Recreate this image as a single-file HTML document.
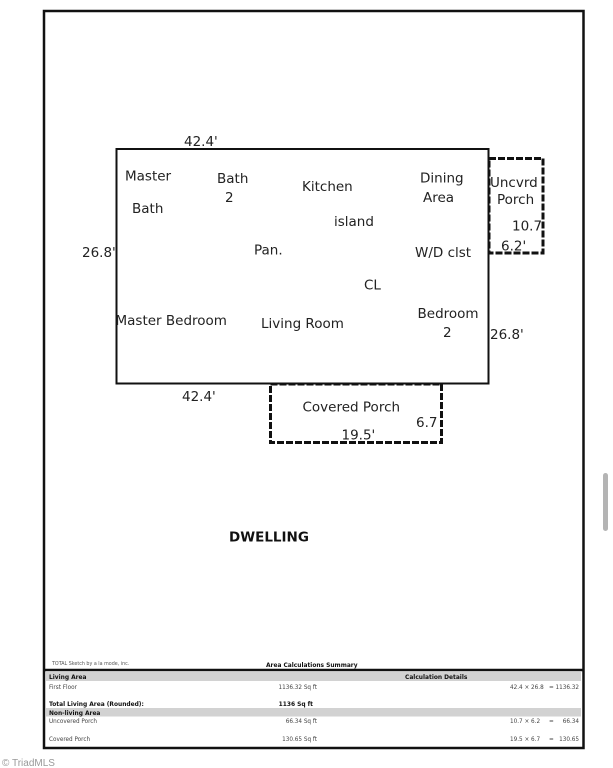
<!DOCTYPE html>
<html>
<head>
<meta charset="utf-8">
<style>
html,body{margin:0;padding:0;background:#fff;width:613px;height:768px;overflow:hidden}
svg{display:block}
text{font-family:"DejaVu Sans",sans-serif;fill:#222}
.r{font-size:13.5px}
.s{font-size:5.7px;fill:#444}
.b{font-size:5.9px;font-weight:bold;fill:#111}
</style>
</head>
<body>
<svg width="613" height="768" viewBox="0 0 613 768" xmlns="http://www.w3.org/2000/svg">
<rect width="613" height="768" fill="#fff"/>
<!-- outer frame -->
<rect x="44" y="11" width="539.5" height="737" fill="none" stroke="#111" stroke-width="2.5"/>
<line x1="44" y1="670" x2="583" y2="670" stroke="#111" stroke-width="2.5"/>
<!-- main rect -->
<rect x="116.500" y="149" width="372" height="234.500" fill="none" stroke="#111" stroke-width="2"/>
<!-- porches -->
<rect x="489" y="158.500" width="54" height="94.500" fill="none" stroke="#111" stroke-width="3" stroke-dasharray="7 2"/>
<rect x="270.500" y="384" width="171" height="58.500" fill="none" stroke="#111" stroke-width="3" stroke-dasharray="7 2"/>
<!-- labels -->
<g class="r">
<text x="184" y="146">42.4'</text>
<text x="125" y="180.500">Master</text>
<text x="132" y="213">Bath</text>
<text x="217" y="183">Bath</text>
<text x="225" y="202">2</text>
<text x="302" y="191">Kitchen</text>
<text x="334" y="226">island</text>
<text x="420" y="182.500">Dining</text>
<text x="423" y="202">Area</text>
<text x="490" y="187">Uncvrd</text>
<text x="497" y="204">Porch</text>
<text x="512" y="230.500">10.7</text>
<text x="501" y="250.500">6.2'</text>
<text x="82" y="257">26.8'</text>
<text x="254" y="254.500">Pan.</text>
<text x="415" y="257">W/D clst</text>
<text x="364" y="289.500">CL</text>
<text x="115.500" y="325">Master Bedroom</text>
<text x="261" y="328">Living Room</text>
<text x="417.500" y="318">Bedroom</text>
<text x="443" y="337">2</text>
<text x="490" y="339">26.8'</text>
<text x="182" y="401">42.4'</text>
<text x="302.500" y="411.500">Covered Porch</text>
<text x="416" y="427">6.7</text>
<text x="341.500" y="439.500">19.5'</text>
</g>
<text x="229" y="541.500" font-size="13.500" font-weight="bold" style="fill:#111">DWELLING</text>
<!-- summary table -->
<text x="52" y="665" font-size="4.800" style="fill:#555">TOTAL Sketch by a la mode, inc.</text>
<text x="266" y="667" class="b">Area Calculations Summary</text>
<rect x="46" y="672" width="535" height="9" fill="#d2d2d2"/>
<rect x="46" y="708" width="535" height="8.500" fill="#d2d2d2"/>
<text x="49" y="679" class="b">Living Area</text>
<text x="405" y="679" class="b">Calculation Details</text>
<text x="49" y="689" class="s">First Floor</text>
<text x="317" y="689" class="s" text-anchor="end">1136.32 Sq ft</text>
<text x="510" y="689" class="s">42.4 × 26.8</text>
<text x="549" y="689" class="s">=</text>
<text x="579" y="689" class="s" text-anchor="end">1136.32</text>
<text x="49" y="706" class="b">Total Living Area (Rounded):</text>
<text x="313" y="706" class="b" text-anchor="end">1136 Sq ft</text>
<text x="49" y="715" class="b">Non-living Area</text>
<text x="49" y="723" class="s">Uncovered Porch</text>
<text x="317" y="723" class="s" text-anchor="end">66.34 Sq ft</text>
<text x="510" y="723" class="s">10.7 × 6.2</text>
<text x="549" y="723" class="s">=</text>
<text x="579" y="723" class="s" text-anchor="end">66.34</text>
<text x="49" y="741" class="s">Covered Porch</text>
<text x="317" y="741" class="s" text-anchor="end">130.65 Sq ft</text>
<text x="510" y="741" class="s">19.5 × 6.7</text>
<text x="549" y="741" class="s">=</text>
<text x="579" y="741" class="s" text-anchor="end">130.65</text>
<!-- watermark -->
<text x="2" y="766" font-size="10" style="fill:#999;font-family:'Liberation Sans',sans-serif">© TriadMLS</text>
<!-- scrollbar -->
<rect x="603" y="473" width="5" height="58" rx="2.500" fill="#b4b4b4"/>
</svg>
</body>
</html>
